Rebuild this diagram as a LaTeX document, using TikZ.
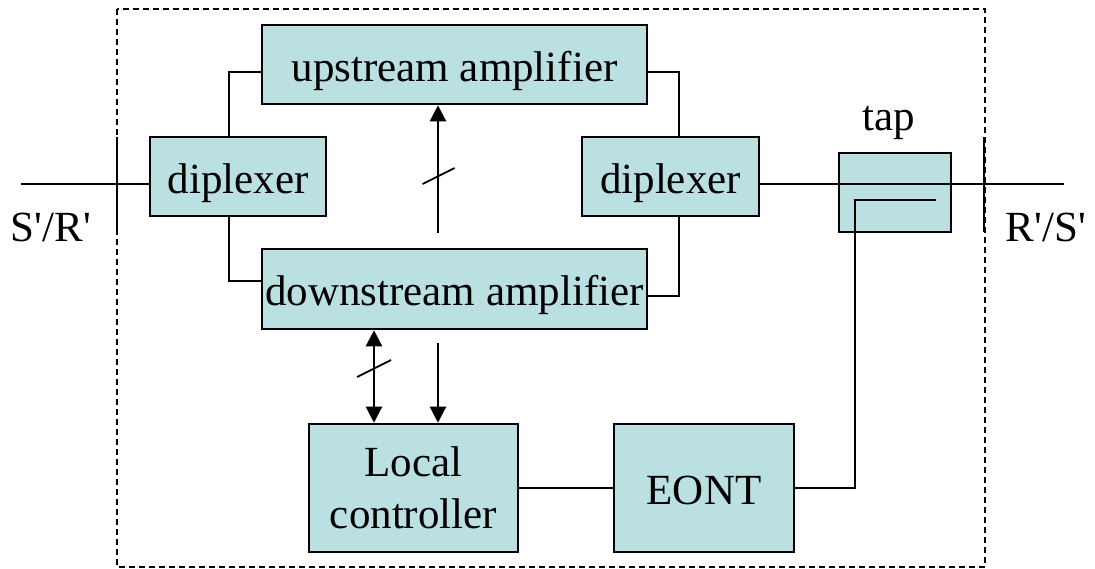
\documentclass[tikz,border=0pt]{standalone}
\usepackage{fontspec}
\setmainfont{Liberation Serif}
\usepackage{tikz}
\usetikzlibrary{arrows.meta}
\definecolor{boxfill}{RGB}{187,224,226}
\newcommand{\prm}{\textquotesingle}

\begin{document}
\begin{tikzpicture}%
	[x=1pt, y=-1pt,
	font=\fontsize{43}{52}\selectfont,
	block/.style={draw=black, fill=boxfill, line width=2.6pt, inner sep=0pt, align=center},
	oneline/.style={text height=33pt, text depth=0pt},
	wire/.style={line width=2.4pt},
	tick/.style={line width=1.8pt},
	frame/.style={line width=1.3pt, dash pattern=on 6pt off 4pt},
	sig/.style={wire, -{Triangle[length=16pt,width=16pt]}},
	sigboth/.style={wire, {Triangle[length=16pt,width=16pt]}-{Triangle[length=16pt,width=16pt]}},
	portlbl/.style={inner sep=0pt, anchor=base}]
\useasboundingbox (0,0) rectangle (1095,568);
%
%% Coordinates of the wire ends and bends
%%
\coordinate (frameNW) at (117,9);
\coordinate (frameSE) at (985,567);
\coordinate (sEnd) at (21,184);
\coordinate (rEnd) at (1064,184);
\coordinate (lTickTop) at (117,137);
\coordinate (lTickBot) at (117,232);
\coordinate (rTickTop) at (984,137);
\coordinate (rTickBot) at (984,232);
\coordinate (upL) at (229,72);
\coordinate (upR) at (679,72);
\coordinate (dnL) at (229,281);
\coordinate (dnR) at (679,296);
\coordinate (tapIn) at (936,200);
\coordinate (tapBend) at (855,488);
\coordinate (upBus) at (438,233);
\coordinate (upSlash) at (438.5,176);
\coordinate (ctlBus) at (374,368.5);
\coordinate (trig) at (438,343);
%%
%% Drawing the dashed frame
%%
\draw[frame] (frameNW) rectangle (frameSE);
%%
%% Drawing the blocks
%%
\node[block, oneline, minimum width=385pt, minimum height=79pt] (upamp) at (454.5,64.5) {upstream amplifier};
\node[block, oneline, minimum width=385pt, minimum height=80pt] (dnamp) at (454.5,289) {downstream amplifier};
\node[block, oneline, minimum width=176pt, minimum height=79pt] (dipL) at (238,176.5) {diplexer};
\node[block, oneline, minimum width=177pt, minimum height=79pt] (dipR) at (670.5,176.5) {diplexer};
\node[block, minimum width=112pt, minimum height=79pt] (tap) at (895,192.5) {};
\node[block, minimum width=209pt, minimum height=128pt] (ctrl) at (413.5,488) {Local\\controller};
\node[block, oneline, minimum width=180pt, minimum height=128pt] (eont) at (704,488) {EONT};
%%
%% Drawing the labels
%%
\node[portlbl] (tapname) at (889,130) {tap};
\node[portlbl] (srname) at (51,241) {S\prm/R\prm};
\node[portlbl] (rsname) at (1046,241) {R\prm/S\prm};
%%
%% Drawing the wires
%%
\draw[wire] (sEnd) -- (dipL.west |- sEnd);
\draw[wire] (dipR.east |- rEnd) -- (rEnd);
\draw[wire] (lTickTop) -- (lTickBot);
\draw[wire] (rTickTop) -- (rTickBot);
\draw[wire] (dipL.north -| upL) |- (upamp.west |- upL);
\draw[wire] (upamp.east |- upR) -| (dipR.north -| upR);
\draw[wire] (dipL.south -| dnL) |- (dnamp.west |- dnL);
\draw[wire] (dnamp.east |- dnR) -| (dipR.south -| dnR);
\draw[wire] (tapIn) -| (tapBend) -- (eont.east);
\draw[wire] (ctrl.east) -- (eont.west);
%%
%% Drawing the control arrows
%%
\draw[sig] (upBus) -- (upBus |- upamp.south);
\draw[tick] ([shift={(-16,8)}]upSlash) -- ([shift={(16,-8)}]upSlash);
\draw[sigboth] (ctlBus |- dnamp.south) -- (ctlBus |- ctrl.north);
\draw[tick] ([shift={(-17,8.5)}]ctlBus) -- ([shift={(17,-8.5)}]ctlBus);
\draw[sig] (trig) -- (trig |- ctrl.north);
%%
\end{tikzpicture}
\end{document}
